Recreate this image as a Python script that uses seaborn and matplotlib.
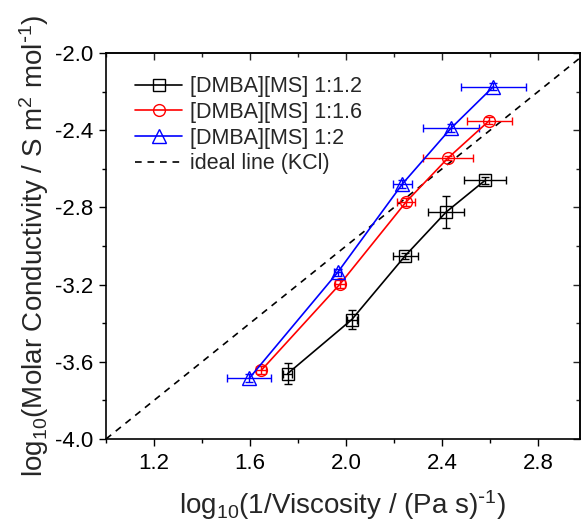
import matplotlib
matplotlib.use("Agg")
import matplotlib.pyplot as plt
import seaborn as sns
import pandas as pd
import numpy as np
from matplotlib.ticker import MultipleLocator, NullFormatter

sns.set_style("ticks")
plt.rcParams['font.family'] = ['Liberation Sans', 'DejaVu Sans']
plt.rcParams['mathtext.default'] = 'regular'

labels = ["[DMBA][MS] 1:1.2", "[DMBA][MS] 1:1.6", "[DMBA][MS] 1:2"]
x_12 = [1.757, 2.024, 2.247, 2.417, 2.579]
y_12 = [-3.661, -3.381, -3.050, -2.824, -2.660]
xe_12 = [0.02, 0.02, 0.053, 0.076, 0.087]
ye_12 = [0.056, 0.047, 0.015, 0.084, 0.02]

x_16 = [1.647, 1.975, 2.250, 2.424, 2.597]
y_16 = [-3.644, -3.197, -2.772, -2.545, -2.350]
xe_16 = [0.02, 0.02, 0.036, 0.104, 0.094]
ye_16 = [0.02, 0.02, 0.02, 0.01, 0.02]

x_2 = [1.597, 1.965, 2.235, 2.437, 2.614]
y_2 = [-3.685, -3.137, -2.678, -2.390, -2.174]
xe_2 = [0.092, 0.015, 0.038, 0.115, 0.135]
ye_2 = [0.02, 0.02, 0.02, 0.02, 0.02]

ideal_x = [1.0, 3.0]
ideal_y = [-4.0, -2.0]
ideal_label = "ideal line (KCl)"

x_ticks = [1.2, 1.6, 2.0, 2.4, 2.8]
y_ticks = [-4.0, -3.6, -3.2, -2.8, -2.4, -2.0]

series = [
    (labels[0], x_12, y_12, xe_12, ye_12, "black", "s", 8),
    (labels[1], x_16, y_16, xe_16, ye_16, "red", "o", 8.5),
    (labels[2], x_2, y_2, xe_2, ye_2, "blue", "^", 10),
]

fig = plt.figure(figsize=(5.81, 5.23), dpi=100)
ax = fig.add_axes([0.1824, 0.1606, 0.816, 0.738])

for lab, xs, ys, xe, ye, col, mk, ms in series:
    df = pd.DataFrame({"x": xs, "y": ys})
    ax.errorbar(xs, ys, xerr=xe, yerr=ye, fmt="none", ecolor=col, elinewidth=1.0,
                capsize=3, capthick=1.0, zorder=3)
    sns.lineplot(data=df, x="x", y="y", ax=ax, color=col, marker=mk, markersize=ms,
                 markerfacecolor="none", markeredgecolor=col, markeredgewidth=1.0,
                 linewidth=1.2, label=lab, sort=False, zorder=4)

dfi = pd.DataFrame({"x": ideal_x, "y": ideal_y})
sns.lineplot(data=dfi, x="x", y="y", ax=ax, color="black", linestyle=(0, (4, 3.5)),
             linewidth=1.2, label=ideal_label)

ax.set_xlim(1.0, 2.975)
ax.set_ylim(-4.0, -2.0)
ax.set_xticks(x_ticks)
ax.set_xticklabels([f"{v:.1f}" for v in x_ticks])
ax.set_yticks(y_ticks)
ax.set_yticklabels([f"{v:.1f}" for v in y_ticks])
ax.xaxis.set_minor_locator(MultipleLocator(0.2))
ax.yaxis.set_minor_locator(MultipleLocator(0.2))
ax.tick_params(which="both", direction="out", top=False, right=False, width=1.0,
               labelsize=16, colors="black")
ax.tick_params(which="major", length=5)
ax.tick_params(which="minor", length=3)
ax.tick_params(axis="x", which="major", pad=5)
ax.tick_params(axis="y", which="major", pad=4)
for s in ax.spines.values():
    s.set_linewidth(1.2)
    s.set_color("black")

# mirrored inward ticks on top and right
top = ax.secondary_xaxis("top")
top.set_xticks(x_ticks)
top.xaxis.set_minor_locator(MultipleLocator(0.2))
top.xaxis.set_major_formatter(NullFormatter())
top.tick_params(which="both", direction="in", width=1.0)
top.tick_params(which="major", length=5)
top.tick_params(which="minor", length=3)
right = ax.secondary_yaxis("right")
right.set_yticks(y_ticks)
right.yaxis.set_minor_locator(MultipleLocator(0.2))
right.yaxis.set_major_formatter(NullFormatter())
right.tick_params(which="both", direction="in", width=1.0)
right.tick_params(which="major", length=5)
right.tick_params(which="minor", length=3)
for sec in (top, right):
    for s in sec.spines.values():
        s.set_linewidth(1.2)

ax.set_xlabel(r"log$_{10}$(1/Viscosity / (Pa s)$^{\text{-}1}$)", fontsize=20, labelpad=10)
ax.set_ylabel(r"log$_{10}$(Molar Conductivity / S m$^{2}$ mol$^{\text{-}1}$)", fontsize=20, labelpad=3)

leg = ax.legend(loc="upper left", frameon=False, fontsize=15.5, handlelength=2.2,
                borderaxespad=0.5, labelspacing=0.22, handletextpad=0.35,
                bbox_to_anchor=(0.02, 0.99))

fig.savefig("out.png", dpi=100)
